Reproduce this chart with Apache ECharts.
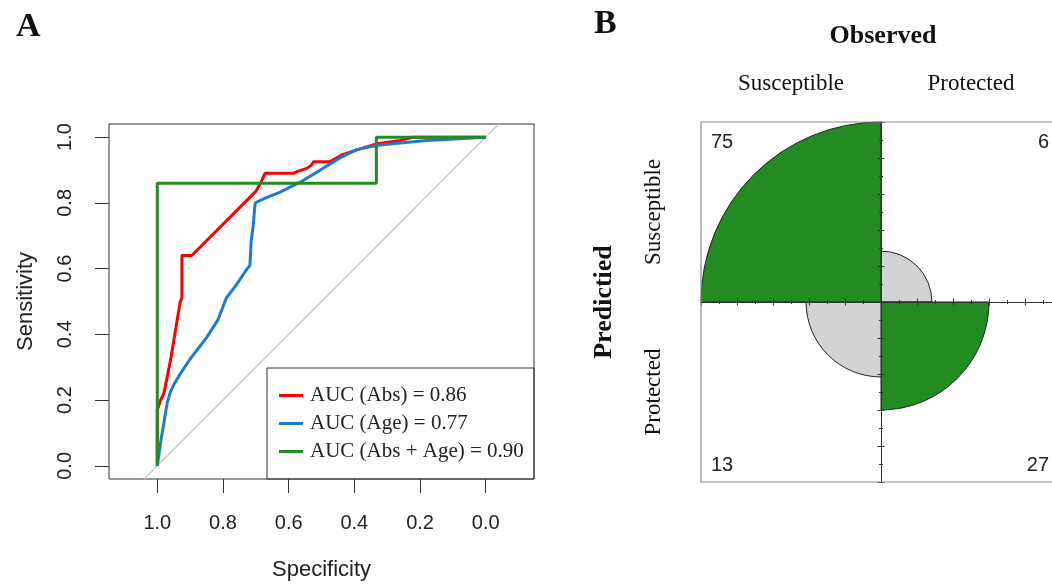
<!DOCTYPE html>
<html>
<head>
<meta charset="utf-8">
<script src="https://cdn.jsdelivr.net/npm/echarts@6/dist/echarts.min.js"></script>
<style>
  html, body { margin: 0; padding: 0; background: #fff; }
  #main { width: 1052px; height: 585px; }
</style>
</head>
<body>
<div id="main"></div>
<script>
// ---- Panel A: ROC curves (specificity, sensitivity) ----
const rocAbsSpec = [1.00, 1.00, 0.99, 0.98, 0.97, 0.96, 0.95, 0.94, 0.935, 0.93, 0.925, 0.925, 0.895, 0.70, 0.688, 0.672, 0.585, 0.575, 0.545, 0.53, 0.525, 0.475, 0.44, 0.39, 0.33, 0.26, 0.22, 0.00];
const rocAbsSens = [0.00, 0.17, 0.20, 0.22, 0.27, 0.32, 0.38, 0.44, 0.47, 0.50, 0.51, 0.64, 0.64, 0.835, 0.855, 0.89, 0.89, 0.895, 0.905, 0.915, 0.925, 0.925, 0.945, 0.962, 0.98, 0.99, 1.00, 1.00];

const rocAgeSpec = [1.00, 0.99, 0.98, 0.97, 0.96, 0.948, 0.93, 0.90, 0.85, 0.815, 0.79, 0.76, 0.726, 0.718, 0.714, 0.708, 0.702, 0.67, 0.626, 0.565, 0.505, 0.444, 0.393, 0.33, 0.26, 0.18, 0.08, 0.00];
const rocAgeSens = [0.00, 0.07, 0.13, 0.19, 0.225, 0.25, 0.28, 0.325, 0.39, 0.445, 0.51, 0.55, 0.60, 0.61, 0.686, 0.73, 0.80, 0.815, 0.833, 0.863, 0.899, 0.937, 0.962, 0.975, 0.982, 0.99, 0.995, 1.00];

const rocBothSpec = [1.00, 1.00, 0.333, 0.333, 0.00];
const rocBothSens = [0.00, 0.86, 0.86, 1.00, 1.00];

// chance diagonal (sensitivity = 1 - specificity), spanning the plot frame
const chanceSpec = [1.04, -0.04];
const chanceSens = [-0.04, 1.04];

const modelNames = ['Abs', 'Age', 'Abs + Age'];
const aucValues = [0.86, 0.77, 0.90];
const axisTicks = [0, 0.2, 0.4, 0.6, 0.8, 1.0];

// ---- Panel B: fourfold table (rows = predicted, cols = observed) ----
const classLabels = ['Susceptible', 'Protected'];
const predSusceptible = [75, 6];   // observed Susceptible, observed Protected
const predProtected = [13, 27];

const colors = { abs: '#ff0000', age: '#1f7ad6', both: '#228b22' };
const SERIF = '"Liberation Serif", "DejaVu Serif", serif';
const SANS = '"Liberation Sans", Arial, sans-serif';

const zip = (a, b) => a.map((v, i) => [v, b[i]]);
const legendNames = modelNames.map((m, i) => 'AUC (' + m + ') = ' + aucValues[i].toFixed(2));

// fourfold cells clockwise from the top-right quadrant
const cellCounts = [predSusceptible[1], predProtected[1], predProtected[0], predSusceptible[0]];
const cellDiagonal = [false, true, false, true];
const maxCount = Math.max(...cellCounts);

// fourfold frame geometry (the frame runs past the right edge of the canvas,
// so the axis grid only covers the visible part and keeps 180 px per unit)
const ffCx = 881, ffCy = 302, ffHalf = 180;
const canvasW = 1052;
const ffVisibleMax = (canvasW - ffCx) / ffHalf;

const chart = echarts.init(document.getElementById('main'), null, { renderer: 'canvas' });

const ffAxisCommon = {
  gridIndex: 1, type: 'value', min: -1, max: 1, interval: 0.2, z: 5,
  axisLine: { show: true, onZero: true, lineStyle: { color: '#333', width: 1 } },
  axisTick: { show: true, length: 3.5, lineStyle: { color: '#333', width: 1 } },
  minorTick: { show: true, splitNumber: 2, length: 2, lineStyle: { color: '#333', width: 1 } },
  axisLabel: { show: false }, splitLine: { show: false }, minorSplitLine: { show: false }
};

const option = {
  backgroundColor: '#ffffff',
  animation: false,
  grid: [
    { left: 109, top: 124, width: 425, height: 355, show: true, borderColor: '#333', borderWidth: 1, backgroundColor: 'transparent', outerBoundsMode: 'none' },
    { left: ffCx - ffHalf, top: ffCy - ffHalf, width: canvasW - (ffCx - ffHalf), height: 2 * ffHalf, show: false, outerBoundsMode: 'none' }
  ],
  xAxis: [
    {
      gridIndex: 0, type: 'value', inverse: true, min: -0.147, max: 1.147,
      name: 'Specificity', nameLocation: 'middle', nameGap: 80,
      nameTextStyle: { fontFamily: SANS, fontSize: 22, color: '#222' },
      axisLine: { show: false, onZero: false },
      axisTick: { show: true, customValues: axisTicks, length: 14, lineStyle: { color: '#333', width: 1 } },
      axisLabel: { show: true, customValues: axisTicks, margin: 34, fontFamily: SANS, fontSize: 20, color: '#222', formatter: v => v.toFixed(1) },
      splitLine: { show: false }
    },
    Object.assign({}, ffAxisCommon, { position: 'bottom', max: ffVisibleMax }),
    Object.assign({}, ffAxisCommon, { position: 'top', max: ffVisibleMax })
  ],
  yAxis: [
    {
      gridIndex: 0, type: 'value', min: -0.04, max: 1.04,
      name: 'Sensitivity', nameLocation: 'middle', nameGap: 72,
      nameTextStyle: { fontFamily: SANS, fontSize: 22, color: '#222' },
      axisLine: { show: false, onZero: false },
      axisTick: { show: true, customValues: axisTicks, length: 14, lineStyle: { color: '#333', width: 1 } },
      axisLabel: { show: true, customValues: axisTicks, rotate: 90, margin: 34, fontFamily: SANS, fontSize: 20, color: '#222', formatter: v => v.toFixed(1) },
      splitLine: { show: false }
    },
    Object.assign({}, ffAxisCommon, { position: 'left' }),
    Object.assign({}, ffAxisCommon, { position: 'right' })
  ],
  polar: { center: [ffCx, ffCy], radius: ffHalf },
  angleAxis: {
    type: 'category', data: ['SP', 'PP', 'PS', 'SS'], startAngle: 90, clockwise: true,
    show: false
  },
  radiusAxis: { type: 'value', min: 0, max: Math.sqrt(maxCount), show: false },
  legend: {
    orient: 'vertical', left: 274, top: 380, itemGap: 7,
    icon: 'rect', itemWidth: 24, itemHeight: 3,
    padding: 5,
    textStyle: { fontFamily: SERIF, fontSize: 21, color: '#222', lineHeight: 21, padding: [0, 0, 0, 2] },
    data: legendNames
  },
  series: [
    {
      type: 'line', name: 'chance', xAxisIndex: 0, yAxisIndex: 0,
      data: zip(chanceSpec, chanceSens), symbol: 'none', silent: true,
      lineStyle: { color: '#c8c8c8', width: 1.2 }, z: 1
    },
    {
      type: 'line', name: legendNames[0], xAxisIndex: 0, yAxisIndex: 0,
      data: zip(rocAbsSpec, rocAbsSens), symbol: 'none',
      lineStyle: { color: colors.abs, width: 3 }, itemStyle: { color: colors.abs }, z: 2
    },
    {
      type: 'line', name: legendNames[1], xAxisIndex: 0, yAxisIndex: 0,
      data: zip(rocAgeSpec, rocAgeSens), symbol: 'none',
      lineStyle: { color: colors.age, width: 3 }, itemStyle: { color: colors.age }, z: 3
    },
    {
      type: 'line', name: legendNames[2], xAxisIndex: 0, yAxisIndex: 0,
      data: zip(rocBothSpec, rocBothSens), symbol: 'none',
      lineStyle: { color: colors.both, width: 3 }, itemStyle: { color: colors.both }, z: 4
    },
    {
      type: 'bar', coordinateSystem: 'polar', barCategoryGap: '0%', silent: true,
      data: cellCounts.map((n, i) => ({
        value: Math.sqrt(n),
        itemStyle: { color: cellDiagonal[i] ? '#228b22' : '#d3d3d3', borderColor: '#222', borderWidth: 1 }
      })),
      z: 2
    }
  ],
  graphic: [
    // legend frame
    { type: 'rect', shape: { x: 267, y: 368, width: 267, height: 111 }, style: { fill: 'transparent', stroke: '#333', lineWidth: 1 }, z: 10, silent: true },
    // fourfold frame
    { type: 'rect', shape: { x: ffCx - ffHalf, y: ffCy - ffHalf, width: 2 * ffHalf, height: 2 * ffHalf }, style: { fill: 'transparent', stroke: '#8c8c8c', lineWidth: 1.2 }, z: 10, silent: true },
    // panel letters
    { type: 'text', x: 16, y: 27, style: { text: 'A', font: 'bold 34px ' + SERIF, fill: '#111', textVerticalAlign: 'middle' } },
    { type: 'text', x: 594, y: 24, style: { text: 'B', font: 'bold 34px ' + SERIF, fill: '#111', textVerticalAlign: 'middle' } },
    // fourfold margin titles
    { type: 'text', x: 883, y: 36, style: { text: 'Observed', font: 'bold 26px ' + SERIF, fill: '#111', textAlign: 'center', textVerticalAlign: 'middle' } },
    { type: 'text', x: 791, y: 84, style: { text: classLabels[0], font: '23px ' + SERIF, fill: '#111', textAlign: 'center', textVerticalAlign: 'middle' } },
    { type: 'text', x: 971, y: 84, style: { text: classLabels[1], font: '23px ' + SERIF, fill: '#111', textAlign: 'center', textVerticalAlign: 'middle' } },
    { type: 'text', x: 604, y: ffCy, rotation: Math.PI / 2, style: { text: 'Predictied', font: 'bold 26px ' + SERIF, fill: '#111', textAlign: 'center', textVerticalAlign: 'middle' } },
    { type: 'text', x: 654, y: ffCy - ffHalf / 2, rotation: Math.PI / 2, style: { text: classLabels[0], font: '23px ' + SERIF, fill: '#111', textAlign: 'center', textVerticalAlign: 'middle' } },
    { type: 'text', x: 654, y: ffCy + ffHalf / 2, rotation: Math.PI / 2, style: { text: classLabels[1], font: '23px ' + SERIF, fill: '#111', textAlign: 'center', textVerticalAlign: 'middle' } },
    // cell counts in the corners
    { type: 'text', x: ffCx - ffHalf + 10, y: ffCy - ffHalf + 20, z: 10, style: { text: String(predSusceptible[0]), font: '20px ' + SANS, fill: '#222', textAlign: 'left', textVerticalAlign: 'middle' } },
    { type: 'text', x: ffCx + ffHalf - 12, y: ffCy - ffHalf + 20, z: 10, style: { text: String(predSusceptible[1]), font: '20px ' + SANS, fill: '#222', textAlign: 'right', textVerticalAlign: 'middle' } },
    { type: 'text', x: ffCx - ffHalf + 10, y: ffCy + ffHalf - 17, z: 10, style: { text: String(predProtected[0]), font: '20px ' + SANS, fill: '#222', textAlign: 'left', textVerticalAlign: 'middle' } },
    { type: 'text', x: ffCx + ffHalf - 12, y: ffCy + ffHalf - 17, z: 10, style: { text: String(predProtected[1]), font: '20px ' + SANS, fill: '#222', textAlign: 'right', textVerticalAlign: 'middle' } }
  ]
};

chart.setOption(option);
</script>
</body>
</html>
